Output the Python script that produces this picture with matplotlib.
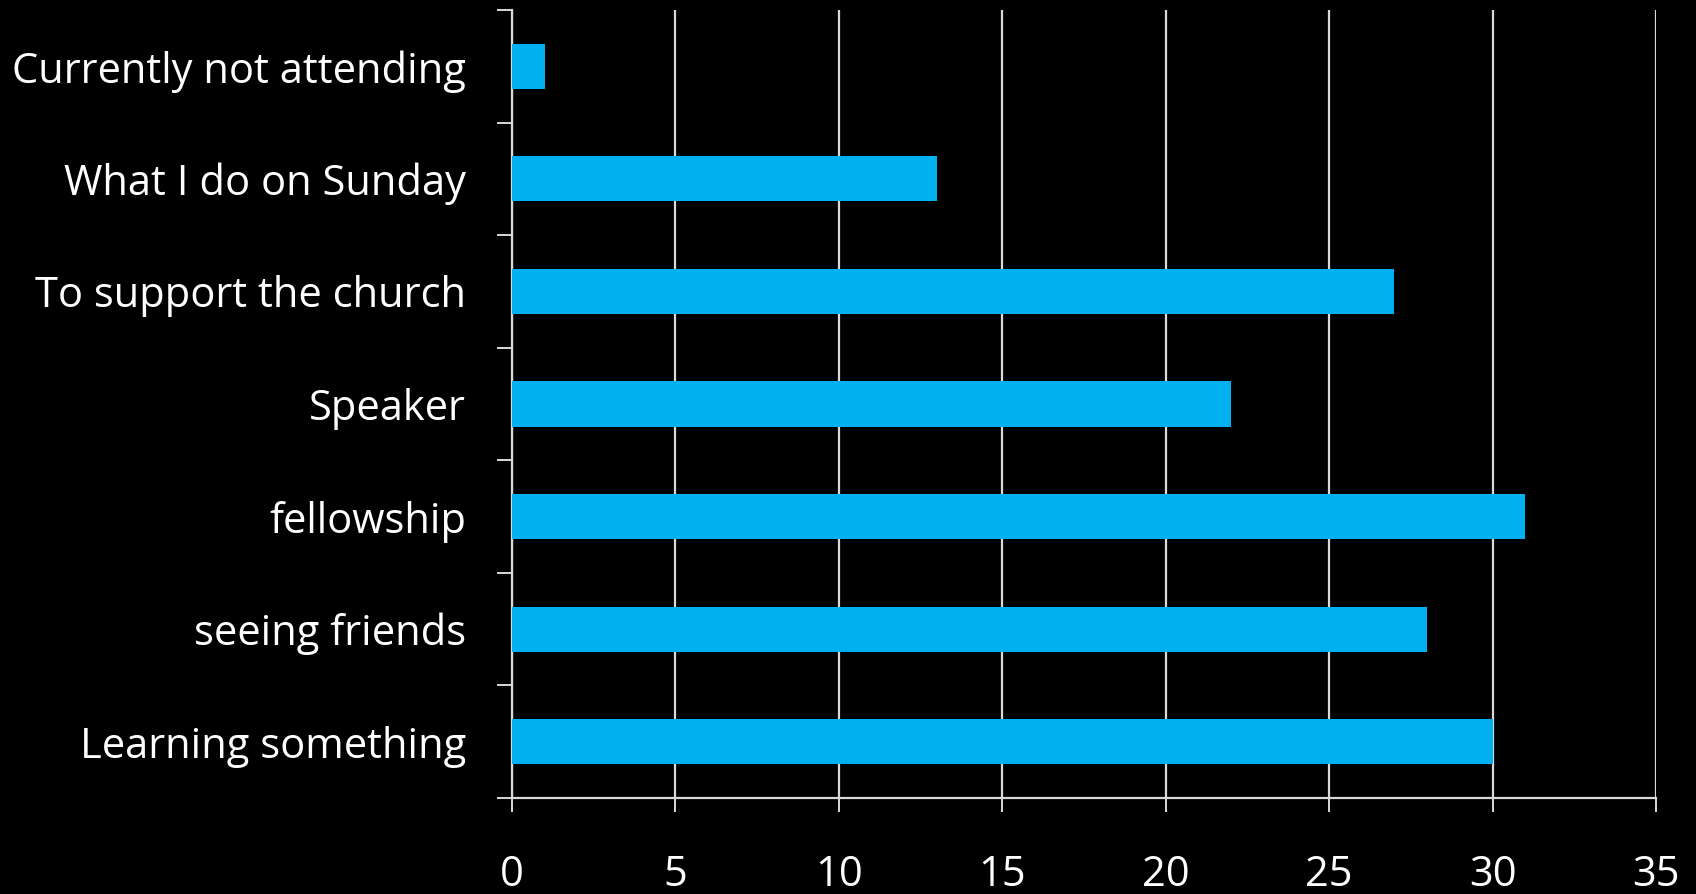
import matplotlib
matplotlib.use('Agg')
import matplotlib.pyplot as plt
import numpy as np

# Datos (de abajo hacia arriba)
categorias = ['Learning something', 'seeing friends', 'fellowship', 'Speaker',
              'To support the church', 'What I do on Sunday', 'Currently not attending']
valores = [30, 28, 31, 22, 27, 13, 1]
ticks_x = [0, 5, 10, 15, 20, 25, 30, 35]

plt.rcParams['font.family'] = ['Open Sans', 'DejaVu Sans']

fig = plt.figure(figsize=(16.96, 8.94), dpi=100, facecolor='black')
ax = fig.add_axes([0.3019, 0.1074, 0.9764 - 0.3019, 0.9888 - 0.1074])
ax.set_facecolor('black')

y = np.arange(len(categorias))
ax.barh(y, valores, height=0.4, color='#00B0F0', zorder=3)

ax.set_xlim(0, 35)
ax.set_ylim(-0.5, len(categorias) - 0.5)
ax.set_xticks(ticks_x)
ax.set_xticklabels([str(t) for t in ticks_x])
ax.set_yticks(y)
ax.set_yticklabels(categorias)
ax.set_yticks(np.arange(-0.5, len(categorias)), minor=True)

ax.grid(axis='x', color='#d9d9d9', linewidth=1.6, zorder=0)
for s in ['top', 'right']:
    ax.spines[s].set_visible(False)
for s in ['left', 'bottom']:
    ax.spines[s].set_color('#d9d9d9')
    ax.spines[s].set_linewidth(1.6)

ax.tick_params(axis='y', which='major', length=0, pad=33, labelsize=30, labelcolor='white')
ax.tick_params(axis='y', which='minor', length=10.5, width=1.4, color='#d9d9d9', direction='out')
ax.tick_params(axis='x', length=10, width=1.4, color='#d9d9d9', direction='out',
               pad=30, labelsize=30, labelcolor='white')

fig.savefig('out.png', dpi=100, facecolor='black')
